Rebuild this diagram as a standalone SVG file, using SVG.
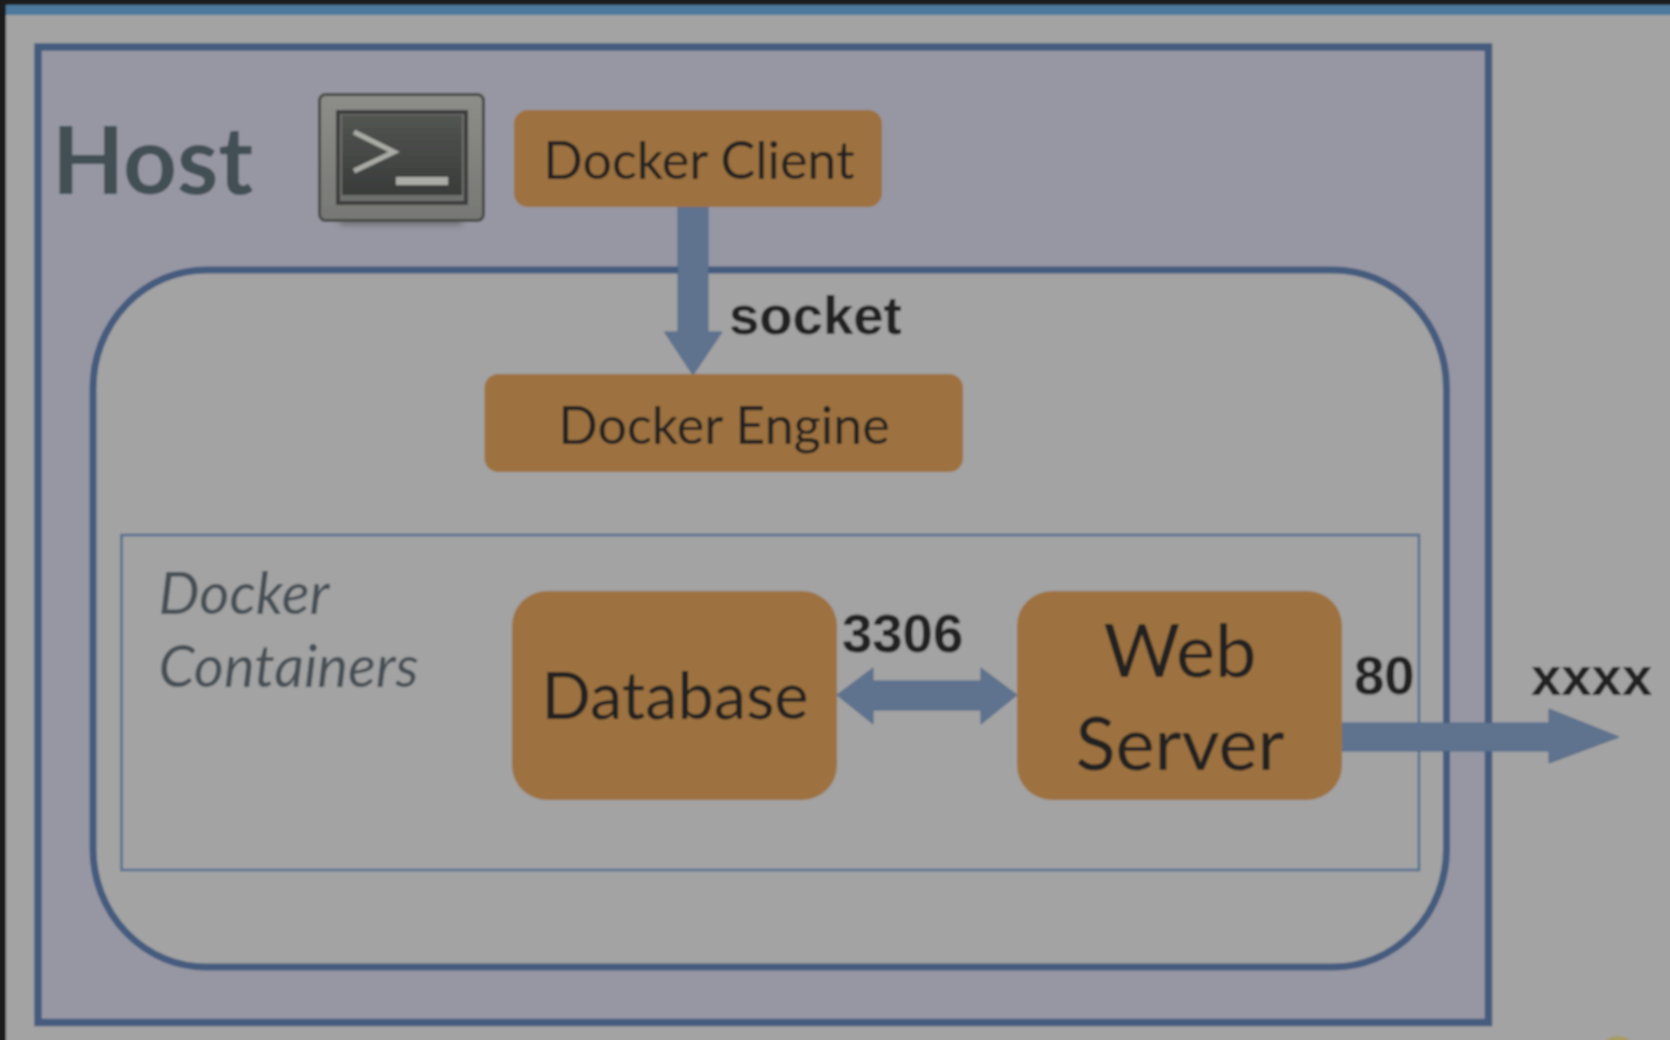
<svg xmlns="http://www.w3.org/2000/svg" width="1670" height="1040" viewBox="0 0 1670 1040">
<defs>
<linearGradient id="scr" x1="0" y1="0" x2="0" y2="1"><stop offset="0" stop-color="#535552"/><stop offset="1" stop-color="#393b3a"/></linearGradient>
<linearGradient id="frame" x1="0" y1="0" x2="0" y2="1"><stop offset="0" stop-color="#8d8e89"/><stop offset="1" stop-color="#777875"/></linearGradient>
<filter id="soft" x="-20%" y="-200%" width="140%" height="500%"><feGaussianBlur stdDeviation="3"/></filter>
<filter id="b" filterUnits="userSpaceOnUse" x="-10" y="-10" width="1690" height="1060"><feGaussianBlur stdDeviation="0.9"/></filter>
</defs>
<style>
.box{fill:#9d723f}
.t{font-family:Lato,"Open Sans",sans-serif;fill:#202020;text-anchor:middle}
.a{font-family:"Liberation Sans",Arial,sans-serif;font-weight:700;fill:#212121}
.arrow{fill:#5f738e;stroke:#536a88;stroke-width:1}
.line{fill:none;stroke:#445b7e}
.i{font-family:Lato,sans-serif;font-style:italic;fill:#474f55}
</style>
<rect x="-10" y="-10" width="1690" height="1060" fill="#1b1b1b"/>
<g filter="url(#b)">
<rect x="-10" y="-10" width="1690" height="1060" fill="#1b1b1b"/>
<rect x="6" y="5" width="1680" height="1050" fill="#a3a3a3"/>
<rect x="6" y="5" width="1680" height="10" fill="#4d7a9c"/>
<ellipse cx="1618" cy="1042" rx="12" ry="6" fill="#a89c62"/>
<g id="host">
<rect x="38" y="47" width="1450.500" height="975.500" class="line" style="fill:#9797a3" stroke-width="7.500"/>
<text x="52" y="194" font-size="94" font-weight="700" style="font-family:Lato,sans-serif;fill:#434f54">Host</text>
</g>
<g id="terminal">
<rect x="340" y="220" width="122" height="4" fill="#555" filter="url(#soft)"/>
<rect x="319.500" y="94.500" width="164" height="126" rx="6" fill="url(#frame)" stroke="#474846" stroke-width="3"/>
<rect x="338" y="112" width="128" height="91" fill="#6e6f6d" stroke="#3d3e3d" stroke-width="4"/>
<rect x="342" y="115" width="120" height="80" fill="url(#scr)"/>
<path d="M354 132 L394 152 L354 171" fill="none" stroke="#aaaba6" stroke-width="5"/>
<rect x="396" y="177" width="52" height="8" fill="#aaaba6"/>
</g>
<g id="docker-host">
<rect x="93" y="270" width="1353.500" height="697" rx="113" ry="118" class="line" style="fill:#a3a3a3" stroke-width="7"/>
</g>
<g id="containers">
<rect x="121.500" y="535" width="1297.500" height="335" fill="none" stroke="#546e90" stroke-width="2.500"/>
<text class="i" x="158.500" y="614" font-size="58">Docker</text>
<text class="i" x="158.500" y="687" font-size="58">Containers</text>
</g>
<g id="connectors">
<path class="arrow" d="M678 207H708V332H722L693 375L664.500 332H678Z"/>
<path class="arrow" d="M837 695L873 668V681H981V668L1017 695L981 724V710H873V724Z"/>
<path class="arrow" d="M1342 723H1549V709L1619 737L1549 763V751H1342Z"/>
</g>
<g id="docker-client">
<rect class="box" x="514" y="110" width="368" height="97" rx="14"/>
<text class="t" x="699" y="179" font-size="52">Docker Client</text>
</g>
<g id="docker-engine">
<rect class="box" x="484.500" y="374" width="478.500" height="98" rx="14"/>
<text class="t" x="724" y="444" font-size="52">Docker Engine</text>
</g>
<g id="database">
<rect class="box" x="512" y="591" width="325" height="209" rx="35"/>
<text class="t" x="675" y="719" font-size="65">Database</text>
</g>
<g id="web-server">
<rect class="box" x="1017" y="591" width="325" height="209" rx="35"/>
<text class="t" x="1180" y="677" font-size="74">Web</text>
<text class="t" x="1180" y="770" font-size="74">Server</text>
</g>
<g id="labels">
<text class="a" x="729" y="334" font-size="54.500">socket</text>
<text class="a" x="842" y="652" font-size="54.500">3306</text>
<text class="a" x="1354" y="694" font-size="54.500">80</text>
<text class="a" x="1531" y="695" font-size="54.500">xxxx</text>
</g>
</g>
</svg>
